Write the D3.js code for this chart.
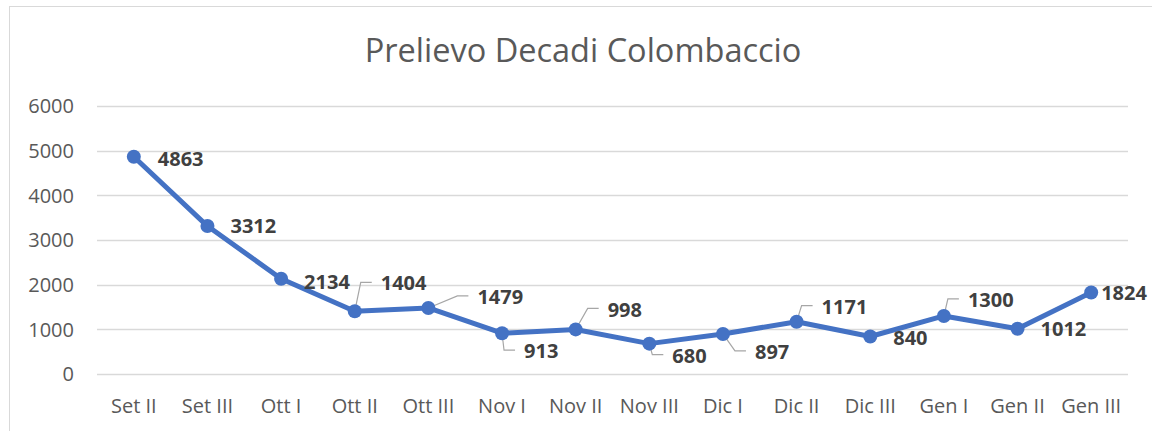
<html lang="it">
<head>
<meta charset="UTF-8">
<title>Prelievo Decadi Colombaccio</title>
<style>
  body { margin: 0; background: #fff; }
  .frame { fill: none; stroke: #d9d9d9; stroke-width: 1px; }
  .grid line { stroke: #d9d9d9; stroke-width: 1.3px; }
  .title { fill: #595959; font: 400 32.5px "Open Sans", sans-serif; text-anchor: middle; }
  .tick { fill: #595959; font: 400 20px "Open Sans", sans-serif; }
  .series { fill: none; stroke: #4472c4; stroke-width: 5px; stroke-linejoin: round; stroke-linecap: round; }
  .dot { fill: #4472c4; }
  .leader { fill: none; stroke: #a6a6a6; stroke-width: 1.2px; }
  .lbl { fill: #404040; font: 700 20px "Open Sans", sans-serif; }
</style>
</head>
<body>
<script src="https://cdnjs.cloudflare.com/ajax/libs/d3/7.8.5/d3.min.js"></script>
<script>

var categories = ["Set II", "Set III", "Ott I", "Ott II", "Ott III", "Nov I", "Nov II",
                  "Nov III", "Dic I", "Dic II", "Dic III", "Gen I", "Gen II", "Gen III"];
var values = [4863, 3312, 2134, 1404, 1479, 913, 998, 680, 897, 1171, 840, 1300, 1012, 1824];
var yTicks = [0, 1000, 2000, 3000, 4000, 5000, 6000];

// where each data label sits relative to its point (px), and whether a leader line is drawn
var labelOffsets = [[24, 2], [23, 0], [23, 3], [26, -28], [49, -11], [22, 18], [32, -20],
                    [23, 12], [32, 18], [25, -15], [23, 1], [24, -16], [23, 0], [10, 0]];
var leaders = [0, 0, 0, 1, 1, 1, 1, 1, 1, 1, 0, 1, 0, 0];

var width = 1152,
    height = 431;

var svg = d3.select("body").append("svg")
  .attr("width", width)
  .attr("height", height);

svg.append("rect")
  .attr("class", "frame")
  .attr("x", 9.5)
  .attr("y", 6.5)
  .attr("width", 1200)
  .attr("height", 500);

svg.append("text")
  .attr("class", "title")
  .attr("x", 583)
  .attr("y", 62)
  .text("Prelievo Decadi Colombaccio");

var x = d3.scaleBand()
  .domain(categories)
  .range([97, 1128]);

var y = d3.scaleLinear()
  .domain([0, 6000])
  .range([374, 106]);

var points = values.map(function(v, i){
  return {
    v: v,
    px: x(categories[i]) + x.bandwidth() / 2,
    py: y(v),
    dx: labelOffsets[i][0],
    dy: labelOffsets[i][1],
    leader: leaders[i]
  };
});

svg.append("g")
  .attr("class", "grid")
  .selectAll("line")
  .data(yTicks)
  .enter()
  .append("line")
    .attr("x1", 97)
    .attr("x2", 1128)
    .attr("y1", function(d){ return Math.round(y(d)) + 0.5; })
    .attr("y2", function(d){ return Math.round(y(d)) + 0.5; });

svg.selectAll(".ytick")
  .data(yTicks)
  .enter()
  .append("text")
    .attr("class", "tick")
    .attr("x", 74)
    .attr("y", function(d){ return y(d); })
    .attr("dy", "0.36em")
    .attr("text-anchor", "end")
    .text(function(d){ return d; });

svg.selectAll(".xtick")
  .data(categories)
  .enter()
  .append("text")
    .attr("class", "tick")
    .attr("x", function(d){ return x(d) + x.bandwidth() / 2; })
    .attr("y", 406)
    .attr("dy", "0.36em")
    .attr("text-anchor", "middle")
    .text(function(d){ return d; });

// leader lines
svg.selectAll(".leader")
  .data(points.filter(function(d){ return d.leader; }))
  .enter()
  .append("path")
    .attr("class", "leader")
    .attr("d", function(d){
      var lx = d.px + d.dx - 9,
          ly = d.py + d.dy - 1;
      return "M" + d.px + "," + d.py + "L" + (lx - 11) + "," + ly + "L" + lx + "," + ly;
    });

svg.append("path")
  .datum(points)
  .attr("class", "series")
  .attr("d", d3.line()
    .x(function(d){ return d.px; })
    .y(function(d){ return d.py; }));

svg.selectAll(".dot")
  .data(points)
  .enter()
  .append("circle")
    .attr("class", "dot")
    .attr("cx", function(d){ return d.px; })
    .attr("cy", function(d){ return d.py; })
    .attr("r", 7);

svg.selectAll(".lbl")
  .data(points)
  .enter()
  .append("text")
    .attr("class", "lbl")
    .attr("x", function(d){ return d.px + d.dx; })
    .attr("y", function(d){ return d.py + d.dy; })
    .attr("dy", "0.36em")
    .text(function(d){ return d.v; });

</script>
</body>
</html>
